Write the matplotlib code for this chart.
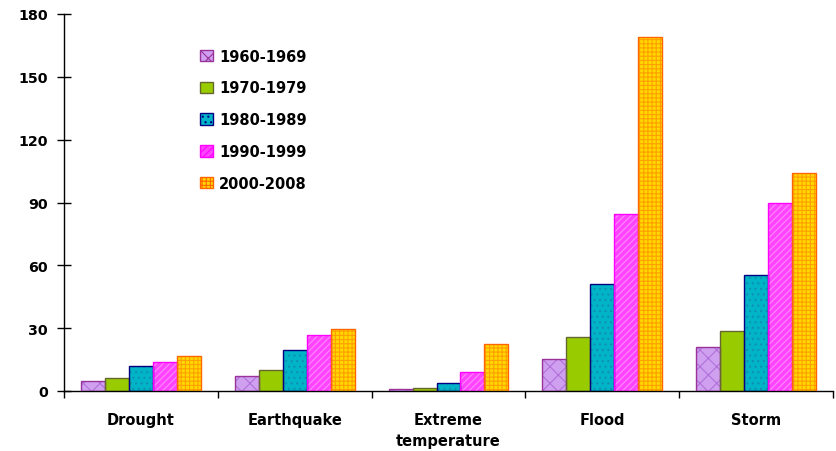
import matplotlib
matplotlib.use("Agg")
import matplotlib.pyplot as plt
import numpy as np

plt.rcParams['font.family'] = ['DejaVu Sans']
plt.rcParams['hatch.linewidth'] = 0.8

categories = ["Drought", "Earthquake", "Extreme\ntemperature", "Flood", "Storm"]
series_names = ["1960-1969", "1970-1979", "1980-1989", "1990-1999", "2000-2008"]
v1960 = [4.6, 7.2, 0.8, 15.3, 21.0]
v1970 = [6.4, 10.0, 1.3, 25.8, 28.8]
v1980 = [11.8, 19.6, 3.8, 51.1, 55.4]
v1990 = [13.9, 26.8, 9.2, 84.6, 89.8]
v2000 = [16.6, 29.6, 22.3, 169.0, 104.0]
yticks = [0, 30, 60, 90, 120, 150, 180]

series = [v1960, v1970, v1980, v1990, v2000]
faces = ["#D0A0F0", "#99CC00", "#00B4C8", "#FF44FF", "#FFD800"]
hatchcols = ["#B070D8", "#99CC00", "#1090B0", "#FF88FF", "#FFA000"]
edges = ["#993399", "#666633", "#000080", "#FF00FF", "#FF6600"]
hatches = ["xx", None, "...", "/////", "++++"]

fig = plt.figure(figsize=(8.37, 4.52), dpi=100)
ax = fig.add_axes([64/837, 1-392/452, (833-64)/837, (392-15)/452])

n = len(series)
x = np.arange(len(categories))
width = 0.78 / n
handles = []
for i, vals in enumerate(series):
    pos = x - 0.39 + width * (i + 0.5)
    ax.bar(pos, vals, width, color=faces[i], hatch=hatches[i],
           edgecolor=hatchcols[i], linewidth=0, zorder=2)
    ax.bar(pos, vals, width, fill=False, edgecolor=edges[i],
           linewidth=1.0, zorder=3)
    h = plt.Rectangle((0, 0), 1, 1, facecolor=faces[i], hatch=hatches[i],
                      edgecolor=edges[i], linewidth=1.0)
    handles.append(h)

ax.set_xlim(-0.5, len(categories) - 0.5)
ax.set_ylim(0, 180)
ax.set_yticks(yticks)
ax.set_yticklabels([str(t) for t in yticks], fontsize=10.3, fontweight='bold')
ax.set_xticks(np.arange(len(categories) + 1) - 0.5)
ax.set_xticklabels([])
ax.set_xticks(x, minor=True)
ax.set_xticklabels(categories, minor=True, fontsize=10.5, fontweight='bold',
                   linespacing=1.5)
ax.tick_params(axis='x', which='minor', length=0, pad=15)
ax.tick_params(axis='x', which='major', length=5, direction='out', width=1)
ax.tick_params(axis='y', length=10, direction='inout', width=1, pad=6.5)
for s in ['top', 'right']:
    ax.spines[s].set_visible(False)
ax.spines['left'].set_linewidth(1)
ax.spines['bottom'].set_linewidth(1)

leg = ax.legend(handles, series_names, loc='upper left',
                bbox_to_anchor=(0.16, 0.943), frameon=False,
                prop={'weight': 'bold', 'size': 10.5},
                handlelength=0.85, handleheight=0.85, handletextpad=0.45,
                labelspacing=1.15)

fig.savefig("out.png", dpi=100)
